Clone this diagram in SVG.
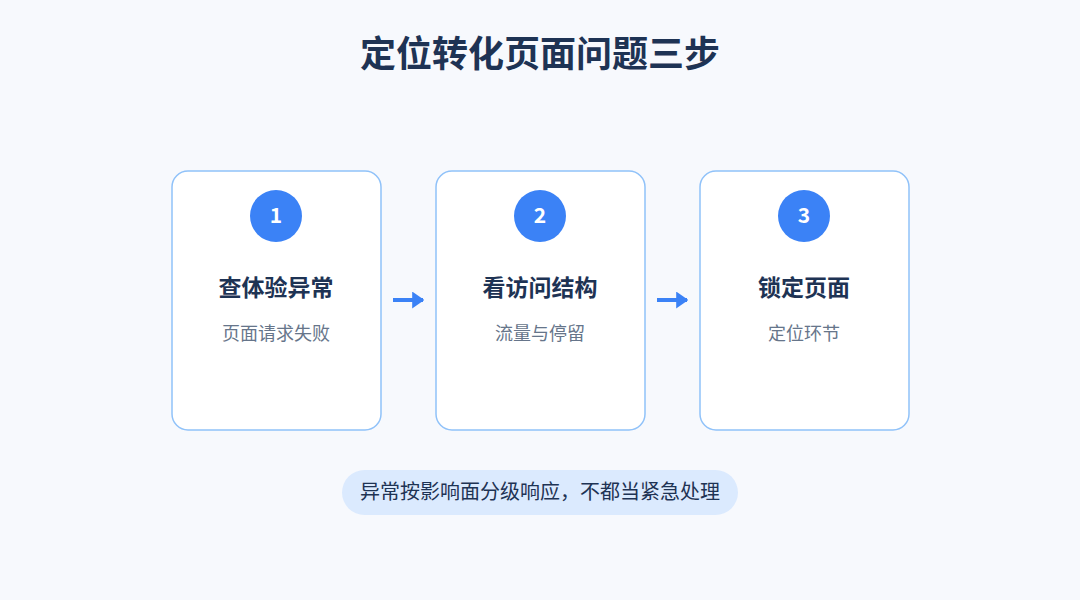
<svg xmlns="http://www.w3.org/2000/svg" width="1080" height="600" viewBox="0 0 1080 600">
<style>
.card{fill:#fff;stroke:#90c2f9;stroke-width:1.5}
.circ{fill:#3b82f6}
.num{font:600 21px "Noto Sans CJK SC","Noto Sans",sans-serif;fill:#fff;text-anchor:middle}
.h{font:700 23px "Noto Sans CJK SC",sans-serif;fill:#1e3354;text-anchor:middle}
.s{font:400 18px "Noto Sans CJK SC",sans-serif;fill:#66758a;text-anchor:middle}
</style>
<defs><marker id="a" viewBox="0 0 10 10" refX="9" refY="5" markerWidth="12" markerHeight="17" markerUnits="userSpaceOnUse" orient="auto" preserveAspectRatio="none"><path d="M0,0L10,5L0,10Z" fill="#3b82f6"/></marker></defs>
<rect width="1080" height="600" fill="#f7f9fd"/>
<text x="540" y="67" style="font:700 36px 'Noto Sans CJK SC',sans-serif;fill:#1e3354;text-anchor:middle">定位转化页面问题三步</text>
<g id="n1"><rect class="card" x="172" y="171" width="209" height="259" rx="16"/><circle class="circ" cx="276" cy="216" r="26"/><text class="num" x="276" y="223">1</text><text class="h" x="276" y="296">查体验异常</text><text class="s" x="276" y="340">页面请求失败</text></g>
<g id="n2"><rect class="card" x="436" y="171" width="209" height="259" rx="16"/><circle class="circ" cx="540" cy="216" r="26"/><text class="num" x="540" y="223">2</text><text class="h" x="540" y="296">看访问结构</text><text class="s" x="540" y="340">流量与停留</text></g>
<g id="n3"><rect class="card" x="700" y="171" width="209" height="259" rx="16"/><circle class="circ" cx="804" cy="216" r="26"/><text class="num" x="804" y="223">3</text><text class="h" x="804" y="296">锁定页面</text><text class="s" x="804" y="340">定位环节</text></g>
<g id="connectors" stroke="#3b82f6" stroke-width="4" fill="none">
<line x1="393" y1="300" x2="423" y2="300" marker-end="url(#a)"/>
<line x1="657" y1="300" x2="687" y2="300" marker-end="url(#a)"/>
</g>
<g id="note"><rect x="342" y="470" width="396" height="45" rx="22.5" fill="#dbeafe"/><text x="540" y="499" style="font:400 20px 'Noto Sans CJK SC',sans-serif;fill:#1e3354;text-anchor:middle">异常按影响面分级响应，不都当紧急处理</text></g>
</svg>
